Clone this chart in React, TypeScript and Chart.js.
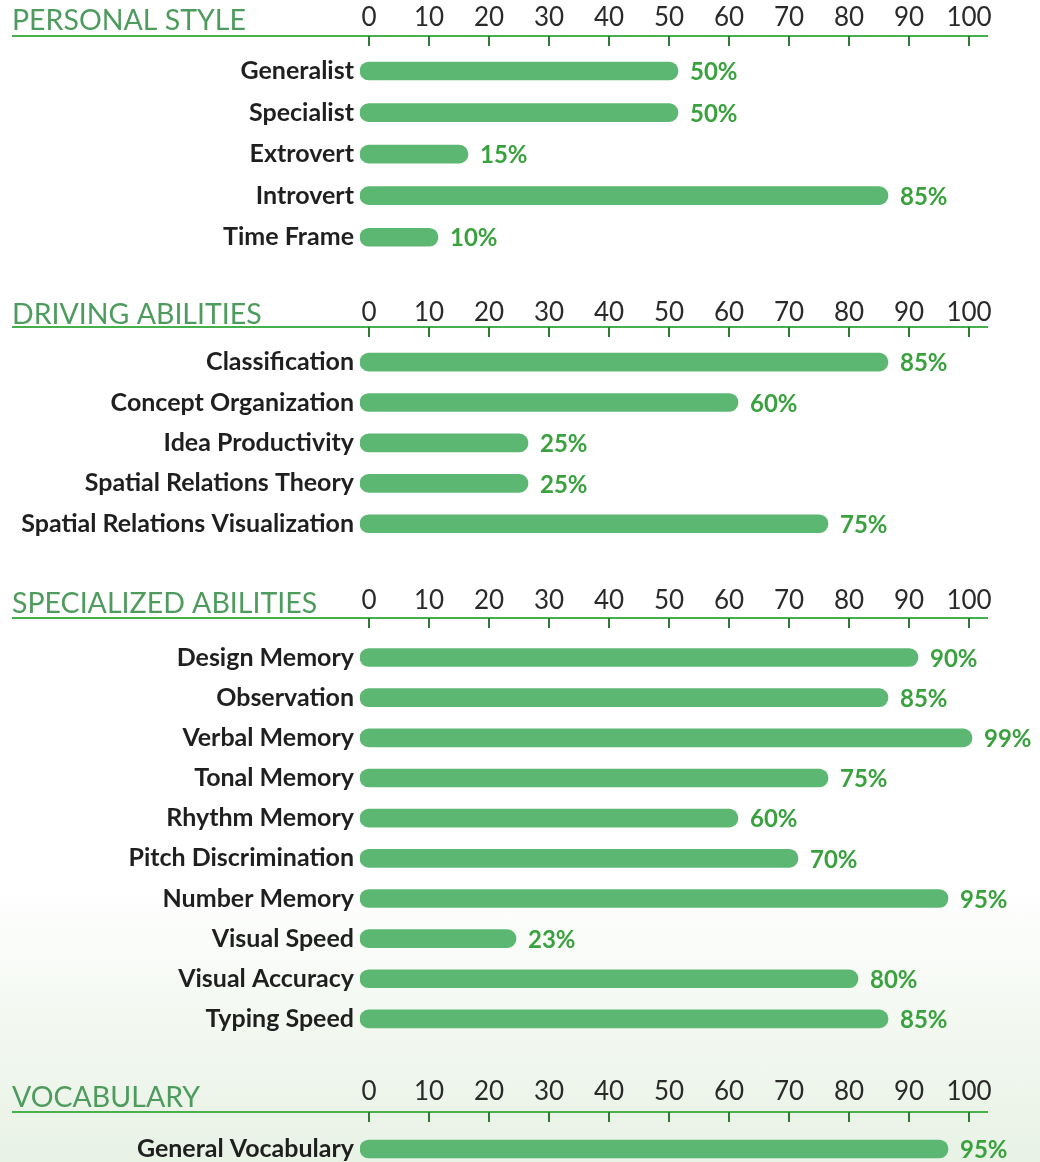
import React, { useEffect, useRef } from 'react';
import { Chart, registerables } from 'chart.js';

Chart.register(...registerables);

// ---------- data ----------
const TICK_VALUES = [0, 10, 20, 30, 40, 50, 60, 70, 80, 90, 100];

const PERSONAL_TITLE = 'PERSONAL STYLE';
const PERSONAL_LABELS = ['Generalist', 'Specialist', 'Extrovert', 'Introvert', 'Time Frame'];
const PERSONAL_VALUES = [50, 50, 15, 85, 10];

const DRIVING_TITLE = 'DRIVING ABILITIES';
const DRIVING_LABELS = [
  'Classification',
  'Concept Organization',
  'Idea Productivity',
  'Spatial Relations Theory',
  'Spatial Relations Visualization',
];
const DRIVING_VALUES = [85, 60, 25, 25, 75];

const SPECIAL_TITLE = 'SPECIALIZED ABILITIES';
const SPECIAL_LABELS = [
  'Design Memory',
  'Observation',
  'Verbal Memory',
  'Tonal Memory',
  'Rhythm Memory',
  'Pitch Discrimination',
  'Number Memory',
  'Visual Speed',
  'Visual Accuracy',
  'Typing Speed',
];
const SPECIAL_VALUES = [90, 85, 99, 75, 60, 70, 95, 23, 80, 85];

const VOCAB_TITLE = 'VOCABULARY';
const VOCAB_LABELS = ['General Vocabulary'];
const VOCAB_VALUES = [95];

// ---------- styles ----------
const BAR_COLOR = '#5cb772';
const VALUE_COLOR = '#39a23e';
const TITLE_COLOR = '#4e9b5e';
const LINE_COLOR = '#45b04c';
const TICK_COLOR = '#2f7a37';
const LABEL_COLOR = '#1f1f1f';
const TICK_LABEL_COLOR = '#2a2a2a';

type SectionProps = {
  title: string;
  labels: string[];
  values: number[];
  lineY: number;
  firstBarY: number;
  rowGap: number;
  titleBase: number;
  tickCenter: number;
};

const BOTTOM_PAD = 24;

function Section(p: SectionProps) {
  const ref = useRef<HTMLCanvasElement>(null);
  const canvasTop = p.lineY - 44;
  const chartTop = p.firstBarY - p.rowGap / 2;
  const chartBottom = chartTop + p.rowGap * p.labels.length;
  const height = Math.ceil(chartBottom - canvasTop) + BOTTOM_PAD;

  useEffect(() => {
    if (!ref.current) return;
    const axisH = chartTop - canvasTop;
    const tickSize = 26;
    const deco = {
      id: 'sectionDeco',
      afterDraw(chart: any) {
        const ctx = chart.ctx as CanvasRenderingContext2D;
        const x2 = chart.scales.x2;
        const ly = p.lineY - canvasTop;
        ctx.save();
        ctx.strokeStyle = LINE_COLOR;
        ctx.lineWidth = 2;
        ctx.beginPath();
        ctx.moveTo(12, ly);
        ctx.lineTo(988, ly);
        ctx.stroke();
        ctx.strokeStyle = TICK_COLOR;
        ctx.lineWidth = 2;
        x2.ticks.forEach((t: any) => {
          const x = Math.round(x2.getPixelForValue(t.value));
          ctx.beginPath();
          ctx.moveTo(x, ly);
          ctx.lineTo(x, ly + 10);
          ctx.stroke();
        });
        ctx.font = '400 28.5px Lato';
        ctx.fillStyle = TITLE_COLOR;
        ctx.textAlign = 'left';
        ctx.textBaseline = 'alphabetic';
        ctx.fillText(p.title, 12, p.titleBase - canvasTop);

        const meta = chart.getDatasetMeta(0);
        ctx.font = '700 24px Lato';
        ctx.fillStyle = VALUE_COLOR;
        ctx.textBaseline = 'middle';
        meta.data.forEach((bar: any, i: number) => {
          ctx.fillText(p.values[i] + '%', bar.x + 12, bar.y + 1.5);
        });
        ctx.restore();
      },
    };

    const chart = new Chart(ref.current, {
      type: 'bar',
      data: {
        labels: p.labels,
        datasets: [
          {
            data: p.values,
            base: -3,
            backgroundColor: BAR_COLOR,
            barThickness: 18,
            borderRadius: 9,
            borderSkipped: false,
            xAxisID: 'x',
            yAxisID: 'y',
          } as any,
        ],
      },
      options: {
        indexAxis: 'y',
        responsive: false,
        animation: false,
        layout: { padding: { left: 0, right: 52, top: 0, bottom: BOTTOM_PAD } },
        plugins: { legend: { display: false }, tooltip: { enabled: false } },
        scales: {
          x: { type: 'linear', display: false, min: -3, max: 101.6667 },
          x2: {
            type: 'linear',
            position: 'top',
            min: -1.5,
            max: 103.1667,
            grid: { display: false, drawTicks: false },
            border: { display: false },
            afterBuildTicks: (s: any) => {
              s.ticks = TICK_VALUES.map((v) => ({ value: v }));
            },
            afterFit: (s: any) => {
              s.height = axisH;
            },
            ticks: {
              font: { family: 'Lato', size: tickSize, weight: '400', lineHeight: 1 },
              color: TICK_LABEL_COLOR,
              padding: chartTop - p.tickCenter - tickSize / 2 - 1,
              autoSkip: false,
              maxRotation: 0,
              callback: (v: any) => String(v),
            },
          } as any,
          y: {
            grid: { display: false, drawTicks: false },
            border: { display: false },
            afterFit: (s: any) => {
              s.width = 360;
            },
            ticks: {
              font: { family: 'Lato', size: 25, weight: '700' },
              color: LABEL_COLOR,
              padding: 6,
              autoSkip: false,
            },
          } as any,
        },
      } as any,
      plugins: [deco],
    });
    return () => chart.destroy();
  }, []);

  return (
    <canvas
      ref={ref}
      width={1040}
      height={height}
      style={{ position: 'absolute', left: 0, top: canvasTop, display: 'block' }}
    />
  );
}

export default function App() {
  return (
    <div
      style={{
        position: 'absolute',
        left: 0,
        top: 0,
        width: 1040,
        height: 1162,
        overflow: 'hidden',
        background:
          'linear-gradient(to bottom, #ffffff 0%, #ffffff 76%, #f3f8f1 88%, #e8f2e5 100%)',
      }}
    >
      <Section
        title={PERSONAL_TITLE}
        labels={PERSONAL_LABELS}
        values={PERSONAL_VALUES}
        lineY={36}
        firstBarY={71}
        rowGap={41.5}
        titleBase={30}
        tickCenter={17}
      />
      <Section
        title={DRIVING_TITLE}
        labels={DRIVING_LABELS}
        values={DRIVING_VALUES}
        lineY={327}
        firstBarY={362}
        rowGap={40.25}
        titleBase={324}
        tickCenter={312}
      />
      <Section
        title={SPECIAL_TITLE}
        labels={SPECIAL_LABELS}
        values={SPECIAL_VALUES}
        lineY={618}
        firstBarY={657.5}
        rowGap={40.1}
        titleBase={613}
        tickCenter={600}
      />
      <Section
        title={VOCAB_TITLE}
        labels={VOCAB_LABELS}
        values={VOCAB_VALUES}
        lineY={1112}
        firstBarY={1149}
        rowGap={40}
        titleBase={1107}
        tickCenter={1091}
      />
    </div>
  );
}
